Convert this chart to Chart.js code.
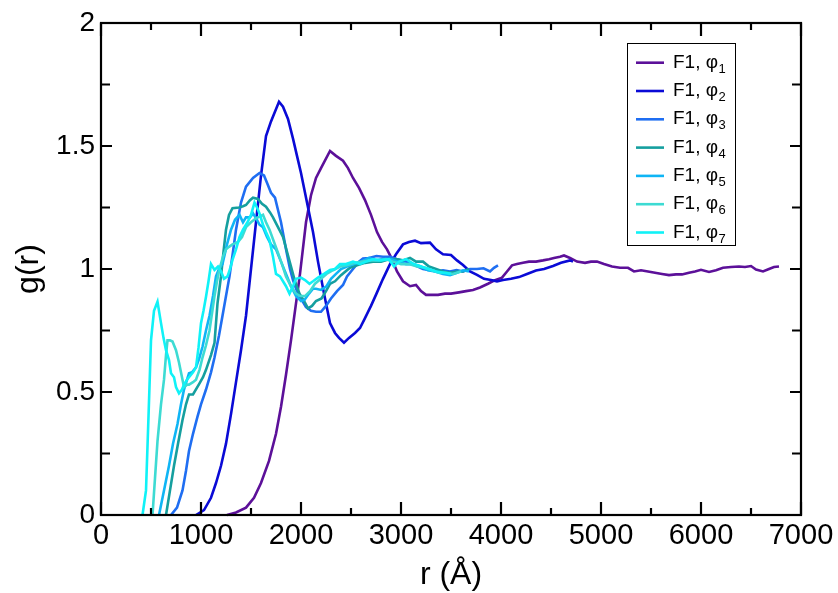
<!DOCTYPE html>
<html>
<head>
<meta charset="utf-8">
<script src="https://cdn.jsdelivr.net/npm/chart.js@4.4.1/dist/chart.umd.min.js"></script>
<style>
  html, body { margin: 0; padding: 0; background: #ffffff; }
  #wrap { width: 838px; height: 593px; position: relative; }
</style>
</head>
<body>
<div id="wrap"><canvas id="c" width="838" height="593"></canvas></div>
<script>
// ---- data (r in Å, g(r)) ----
const phi1 = [[1260,0],[1350,0.01],[1450,0.03],[1530,0.07],[1600,0.13],[1680,0.22],[1750,0.33],[1800,0.44],[1850,0.57],[1900,0.71],[1950,0.86],[1990,0.98],[2050,1.19],[2100,1.30],[2150,1.37],[2200,1.41],[2290,1.48],[2350,1.46],[2420,1.44],[2470,1.41],[2520,1.37],[2580,1.33],[2640,1.28],[2700,1.22],[2760,1.15],[2810,1.11],[2860,1.08],[2910,1.04],[2960,0.99],[3020,0.95],[3090,0.93],[3150,0.935],[3200,0.91],[3250,0.895],[3300,0.895],[3370,0.895],[3440,0.90],[3500,0.90],[3580,0.905],[3650,0.91],[3720,0.915],[3790,0.925],[3870,0.94],[3940,0.955],[4010,0.965],[4060,0.99],[4110,1.015],[4160,1.02],[4220,1.025],[4280,1.03],[4350,1.03],[4420,1.035],[4480,1.04],[4530,1.045],[4590,1.05],[4630,1.055],[4690,1.045],[4760,1.03],[4840,1.025],[4900,1.03],[4960,1.03],[5030,1.02],[5110,1.01],[5190,1.005],[5270,1.005],[5330,0.99],[5400,0.995],[5470,0.99],[5540,0.985],[5610,0.98],[5680,0.975],[5750,0.978],[5810,0.978],[5880,0.985],[5940,0.99],[6000,0.997],[6080,0.988],[6150,0.995],[6220,1.005],[6300,1.008],[6380,1.01],[6440,1.008],[6500,1.012],[6550,0.998],[6620,0.99],[6680,1.0],[6730,1.008],[6780,1.01]];
const phi2 = [[950,0],[1030,0.02],[1100,0.07],[1150,0.13],[1200,0.2],[1250,0.29],[1300,0.41],[1350,0.54],[1400,0.67],[1450,0.81],[1500,1.0],[1550,1.19],[1600,1.38],[1650,1.54],[1700,1.6],[1780,1.68],[1820,1.66],[1870,1.61],[1920,1.53],[1960,1.46],[2000,1.39],[2060,1.27],[2120,1.15],[2170,1.03],[2230,0.9],[2290,0.78],[2340,0.74],[2380,0.72],[2430,0.70],[2480,0.72],[2540,0.74],[2590,0.76],[2640,0.80],[2700,0.85],[2755,0.90],[2820,0.96],[2890,1.02],[2950,1.06],[3020,1.10],[3080,1.11],[3140,1.115],[3200,1.105],[3290,1.107],[3350,1.08],[3420,1.06],[3500,1.057],[3560,1.035],[3620,1.016],[3690,0.99],[3760,0.976],[3830,0.96],[3900,0.955],[3960,0.95],[4020,0.955],[4100,0.96],[4180,0.967],[4260,0.98],[4350,0.994],[4430,1.0],[4520,1.012],[4600,1.025],[4690,1.035],[4720,1.03]];
const phi3 = [[700,0],[760,0.03],[815,0.1],[850,0.18],[880,0.26],[920,0.33],[965,0.40],[1000,0.45],[1050,0.51],[1100,0.58],[1135,0.64],[1180,0.73],[1215,0.81],[1250,0.89],[1285,0.97],[1320,1.07],[1350,1.16],[1400,1.27],[1450,1.335],[1520,1.37],[1585,1.39],[1630,1.38],[1670,1.34],[1700,1.31],[1740,1.29],[1770,1.24],[1800,1.19],[1850,1.08],[1890,1.0],[1920,0.955],[1960,0.91],[2000,0.88],[2050,0.845],[2100,0.83],[2150,0.826],[2200,0.826],[2250,0.85],[2300,0.88],[2360,0.91],[2420,0.935],[2460,0.97],[2520,1.0],[2580,1.03],[2620,1.043],[2680,1.045],[2755,1.053],[2820,1.05],[2890,1.05],[2960,1.04],[3055,1.03],[3140,1.015],[3220,1.0],[3290,0.995],[3355,0.99],[3420,0.995],[3490,0.99],[3555,0.996],[3620,0.99],[3690,1.0],[3760,1.0],[3825,1.003],[3890,0.99],[3930,1.005],[3970,1.015]];
const phi4 = [[650,0],[690,0.1],[730,0.2],[770,0.29],[815,0.386],[850,0.45],[880,0.49],[920,0.49],[985,0.535],[1020,0.56],[1050,0.59],[1100,0.65],[1135,0.70],[1165,0.86],[1200,0.97],[1225,1.07],[1250,1.16],[1280,1.22],[1315,1.247],[1380,1.25],[1420,1.255],[1450,1.26],[1490,1.28],[1520,1.29],[1570,1.285],[1610,1.265],[1650,1.253],[1690,1.23],[1720,1.21],[1770,1.17],[1820,1.13],[1860,1.07],[1900,1.01],[1940,0.95],[1985,0.90],[2030,0.87],[2070,0.84],[2110,0.85],[2150,0.87],[2205,0.88],[2250,0.91],[2290,0.94],[2340,0.95],[2400,0.975],[2490,1.005],[2560,1.015],[2640,1.025],[2720,1.03],[2800,1.03],[2880,1.04],[2950,1.04],[3020,1.035],[3090,1.045],[3150,1.03],[3220,1.03],[3280,1.01],[3350,1.0],[3420,0.99],[3490,0.985],[3560,0.99],[3620,0.99],[3680,1.0]];
const phi5 = [[580,0],[630,0.1],[680,0.2],[720,0.29],[765,0.37],[800,0.45],[830,0.51],[880,0.576],[910,0.58],[950,0.60],[985,0.64],[1015,0.684],[1050,0.75],[1085,0.81],[1120,0.89],[1150,0.97],[1180,1.0],[1215,1.02],[1260,1.1],[1300,1.16],[1340,1.2],[1385,1.22],[1420,1.19],[1450,1.21],[1490,1.21],[1520,1.226],[1560,1.2],[1585,1.18],[1620,1.17],[1660,1.13],[1700,1.1],[1750,1.08],[1800,1.03],[1850,0.98],[1900,0.93],[1950,0.89],[2000,0.87],[2035,0.874],[2080,0.9],[2120,0.92],[2150,0.92],[2200,0.915],[2255,0.93],[2300,0.96],[2350,0.98],[2400,1.0],[2460,1.01],[2530,1.02],[2600,1.03],[2680,1.045],[2750,1.035],[2820,1.04],[2900,1.04],[2970,1.03],[3050,1.02],[3120,1.02],[3200,1.01],[3270,0.995],[3340,0.99],[3420,0.98],[3490,0.975],[3560,0.985],[3620,0.995],[3680,0.99]];
const phi6 = [[515,0],[540,0.15],[565,0.30],[600,0.45],[630,0.55],[650,0.65],[665,0.71],[690,0.71],[715,0.705],[750,0.67],[780,0.62],[810,0.56],[830,0.52],[860,0.53],[880,0.53],[920,0.54],[950,0.55],[985,0.59],[1015,0.64],[1050,0.69],[1085,0.75],[1110,0.82],[1135,0.89],[1160,0.95],[1185,1.0],[1220,1.05],[1250,1.08],[1280,1.09],[1315,1.10],[1370,1.11],[1410,1.13],[1450,1.17],[1500,1.19],[1550,1.206],[1620,1.22],[1650,1.19],[1685,1.16],[1730,1.11],[1770,1.065],[1810,1.02],[1850,0.97],[1900,0.93],[1950,0.90],[1990,0.89],[2040,0.89],[2090,0.91],[2140,0.94],[2200,0.96],[2255,0.98],[2320,0.995],[2390,1.01],[2460,1.015],[2540,1.025],[2620,1.03],[2700,1.035],[2780,1.035],[2850,1.04],[2920,1.03],[3000,1.02],[3080,1.02],[3160,1.01],[3240,1.005],[3310,0.995],[3380,0.985],[3450,0.985],[3520,0.98],[3600,0.99]];
const phi7 = [[415,0],[450,0.1],[475,0.4],[500,0.71],[530,0.83],[565,0.867],[600,0.78],[625,0.72],[650,0.67],[680,0.63],[700,0.576],[730,0.56],[750,0.52],[780,0.495],[810,0.51],[830,0.53],[860,0.55],[880,0.56],[920,0.58],[950,0.60],[975,0.68],[1000,0.78],[1025,0.83],[1050,0.887],[1075,0.95],[1100,1.02],[1135,0.996],[1170,1.01],[1200,0.99],[1230,0.96],[1265,0.97],[1290,1.0],[1315,1.037],[1350,1.08],[1385,1.13],[1420,1.16],[1465,1.19],[1500,1.22],[1535,1.27],[1560,1.25],[1585,1.226],[1620,1.18],[1650,1.15],[1685,1.118],[1720,1.05],[1750,0.98],[1790,0.97],[1820,0.95],[1850,0.93],[1885,0.90],[1920,0.93],[1950,0.96],[2000,0.965],[2040,0.955],[2085,0.94],[2120,0.95],[2170,0.965],[2230,0.98],[2290,0.996],[2340,1.0],[2390,1.02],[2450,1.02],[2520,1.03],[2590,1.02],[2650,1.03],[2720,1.04],[2800,1.035],[2880,1.04],[2930,1.01],[2980,1.03],[3050,1.04],[3130,1.02],[3200,1.01],[3280,1.0],[3350,0.99],[3430,0.985],[3500,0.98]];

const seriesPrefix = ['F1, φ','F1, φ','F1, φ','F1, φ','F1, φ','F1, φ','F1, φ'];
const seriesSub = ['1','2','3','4','5','6','7'];
const seriesData = [phi1, phi2, phi3, phi4, phi5, phi6, phi7];
const seriesColors = ['#5c1099','#0a0ad6','#1f6ef2','#159f9f','#0fb5f5','#3ddbd3','#10f2f7'];

const xTicks = [0,1000,2000,3000,4000,5000,6000,7000];
const yTicks = [0,0.5,1,1.5,2];
const xTitle = 'r (Å)';
const yTitle = 'g(r)';

const FONT = '"Liberation Sans", Arial, sans-serif';

const datasets = seriesData.map((d, i) => ({
  label: seriesPrefix[i] + seriesSub[i],
  data: d.map(p => ({x: p[0], y: p[1]})),
  borderColor: seriesColors[i],
  backgroundColor: seriesColors[i],
  borderWidth: 2.6,
  pointRadius: 0,
  tension: 0,
  fill: false,
  clip: false,
  order: seriesData.length - i
}));

const framePlugin = {
  id: 'frame',
  afterDatasetsDraw(chart) {
    const ctx = chart.ctx;
    const a = chart.chartArea;
    const xs = chart.scales.x, ys = chart.scales.y;
    ctx.save();
    ctx.strokeStyle = '#000';
    ctx.lineWidth = 2.2;
    ctx.strokeRect(a.left, a.top, a.right - a.left, a.bottom - a.top);
    // x ticks (inward, bottom & top)
    for (let v = 0; v <= 7000; v += 500) {
      const px = xs.getPixelForValue(v);
      const len = (v % 1000 === 0) ? 13 : 7;
      ctx.beginPath();
      ctx.moveTo(px, a.bottom); ctx.lineTo(px, a.bottom - len);
      ctx.moveTo(px, a.top); ctx.lineTo(px, a.top + len);
      ctx.stroke();
    }
    for (let k = 0; k <= 8; k++) {
      const v = k * 0.25;
      const py = ys.getPixelForValue(v);
      const len = (k % 2 === 0) ? 11 : 9;
      ctx.beginPath();
      ctx.moveTo(a.left, py); ctx.lineTo(a.left + len, py);
      ctx.moveTo(a.right, py); ctx.lineTo(a.right - len, py);
      ctx.stroke();
    }
    // axis titles
    ctx.fillStyle = '#000';
    ctx.font = '32px ' + FONT;
    ctx.textAlign = 'center';
    ctx.textBaseline = 'alphabetic';
    ctx.fillText(xTitle, (a.left + a.right) / 2, 584);
    ctx.save();
    ctx.translate(38, (a.top + a.bottom) / 2);
    ctx.rotate(-Math.PI / 2);
    ctx.fillText(yTitle, 0, 0);
    ctx.restore();
    // legend
    const bx = 627, by = 43, bw = 108, bh = 202;
    ctx.fillStyle = '#fff';
    ctx.fillRect(bx, by, bw, bh);
    ctx.lineWidth = 1;
    ctx.strokeStyle = '#000';
    ctx.strokeRect(bx + 0.5, by + 0.5, bw, bh);
    for (let i = 0; i < seriesData.length; i++) {
      const yy = 62.7 + i * 28.3;
      ctx.strokeStyle = seriesColors[i];
      ctx.lineWidth = 2.6;
      ctx.beginPath();
      ctx.moveTo(636, yy); ctx.lineTo(664, yy);
      ctx.stroke();
      ctx.fillStyle = '#000';
      ctx.textAlign = 'left';
      ctx.font = '19px ' + FONT;
      ctx.fillText(seriesPrefix[i], 673, yy + 5);
      const w = ctx.measureText(seriesPrefix[i]).width;
      ctx.font = '13px ' + FONT;
      ctx.fillText(seriesSub[i], 673 + w + 0.5, yy + 10);
    }
    ctx.restore();
  }
};

new Chart(document.getElementById('c'), {
  type: 'line',
  data: { datasets },
  options: {
    responsive: false,
    animation: false,
    devicePixelRatio: 1,
    layout: { padding: { left: 0, top: 23, right: 37, bottom: 0 } },
    plugins: { legend: { display: false }, tooltip: { enabled: false } },
    scales: {
      x: {
        type: 'linear', min: 0, max: 7000,
        afterFit(s) { s.height = 78; },
        afterBuildTicks(s) { s.ticks = xTicks.map(v => ({value: v})); },
        grid: { display: false, drawTicks: false },
        border: { display: false },
        ticks: { color: '#000', font: { family: FONT, size: 29 }, padding: 4, maxRotation: 0, autoSkip: false,
                 callback: v => String(v) }
      },
      y: {
        type: 'linear', min: 0, max: 2,
        afterFit(s) { s.width = 101; },
        afterBuildTicks(s) { s.ticks = yTicks.map(v => ({value: v})); },
        grid: { display: false, drawTicks: false },
        border: { display: false },
        ticks: { color: '#000', font: { family: FONT, size: 28 }, padding: 6, autoSkip: false,
                 callback: v => String(v) }
      }
    }
  },
  plugins: [framePlugin]
});
</script>
</body>
</html>
